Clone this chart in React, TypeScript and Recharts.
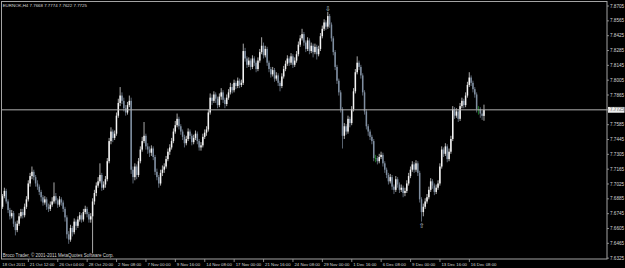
import { ComposedChart, Bar, XAxis, YAxis, ReferenceLine, ReferenceDot } from 'recharts'

// EURNOK H4 candles, 18 Oct 2011 .. 19 Dec 2011
const SYMBOL = 'EURNOK,H4'
const FIRST_OPEN = 7.684

const closes = [
  7.681, 7.691, 7.696, 7.686, 7.678, 7.672, 7.675, 7.665, 7.659, 7.665,
  7.672, 7.676, 7.673, 7.681, 7.688, 7.703, 7.710, 7.714, 7.709, 7.703,
  7.700, 7.695, 7.690, 7.685, 7.688, 7.681, 7.679, 7.683, 7.686, 7.691,
  7.687, 7.683, 7.688, 7.685, 7.679, 7.671, 7.655, 7.650, 7.661, 7.657,
  7.667, 7.663, 7.669, 7.673, 7.669, 7.676, 7.679, 7.674, 7.669, 7.672,
  7.686, 7.694, 7.701, 7.705, 7.711, 7.699, 7.702, 7.707, 7.724, 7.743,
  7.752, 7.746, 7.750, 7.767, 7.779, 7.786, 7.781, 7.774, 7.770, 7.777,
  7.781, 7.716, 7.709, 7.719, 7.711, 7.724, 7.735, 7.743, 7.748, 7.738,
  7.735, 7.732, 7.736, 7.728, 7.714, 7.709, 7.703, 7.713, 7.716, 7.719,
  7.726, 7.733, 7.737, 7.743, 7.752, 7.758, 7.764, 7.757, 7.752, 7.747,
  7.741, 7.745, 7.752, 7.748, 7.742, 7.746, 7.750, 7.743, 7.737, 7.739,
  7.747, 7.751, 7.754, 7.770, 7.784, 7.781, 7.787, 7.783, 7.777, 7.785,
  7.789, 7.782, 7.778, 7.784, 7.789, 7.794, 7.791, 7.798, 7.795, 7.800,
  7.796, 7.798, 7.828, 7.821, 7.815, 7.819, 7.813, 7.821, 7.817, 7.811,
  7.819, 7.827, 7.833, 7.824, 7.830, 7.817, 7.811, 7.806, 7.810, 7.802,
  7.805, 7.798, 7.795, 7.804, 7.811, 7.816, 7.821, 7.817, 7.823, 7.815,
  7.819, 7.825, 7.834, 7.840, 7.844, 7.836, 7.830, 7.838, 7.828, 7.833,
  7.827, 7.832, 7.825, 7.830, 7.842, 7.849, 7.855, 7.851, 7.861, 7.853,
  7.840, 7.827, 7.813, 7.800, 7.789, 7.773, 7.748, 7.757, 7.752, 7.764,
  7.760, 7.773, 7.790, 7.808, 7.817, 7.813, 7.805, 7.789, 7.771, 7.757,
  7.752, 7.747, 7.743, 7.727, 7.727, 7.724, 7.728, 7.730, 7.722, 7.716,
  7.711, 7.705, 7.709, 7.700, 7.697, 7.707, 7.702, 7.697, 7.699, 7.694,
  7.696, 7.703, 7.710, 7.716, 7.721, 7.716, 7.722, 7.713, 7.688, 7.676,
  7.681, 7.686, 7.690, 7.697, 7.705, 7.701, 7.695, 7.699, 7.703, 7.719,
  7.735, 7.731, 7.738, 7.726, 7.733, 7.745, 7.773, 7.767, 7.771, 7.764,
  7.776, 7.781, 7.777, 7.786, 7.796, 7.803, 7.798, 7.792, 7.787, 7.773,
  7.773, 7.769, 7.7668, 7.7725,
]

const highs = [
  7.686, 7.693, 7.699, 7.698, 7.688, 7.680, 7.678, 7.677, 7.667, 7.668,
  7.675, 7.679, 7.679, 7.684, 7.691, 7.706, 7.713, 7.719, 7.716, 7.711,
  7.706, 7.702, 7.697, 7.692, 7.691, 7.690, 7.684, 7.686, 7.690, 7.704,
  7.694, 7.689, 7.691, 7.690, 7.687, 7.681, 7.673, 7.658, 7.664, 7.663,
  7.670, 7.669, 7.672, 7.676, 7.675, 7.679, 7.682, 7.681, 7.676, 7.675,
  7.689, 7.697, 7.704, 7.709, 7.722, 7.713, 7.705, 7.710, 7.727, 7.746,
  7.756, 7.754, 7.753, 7.770, 7.783, 7.794, 7.789, 7.784, 7.777, 7.780,
  7.786, 7.784, 7.719, 7.722, 7.721, 7.727, 7.738, 7.747, 7.761, 7.750,
  7.741, 7.738, 7.739, 7.738, 7.730, 7.717, 7.711, 7.716, 7.720, 7.722,
  7.729, 7.736, 7.740, 7.746, 7.755, 7.762, 7.769, 7.766, 7.759, 7.754,
  7.749, 7.748, 7.755, 7.754, 7.750, 7.749, 7.753, 7.752, 7.745, 7.742,
  7.750, 7.754, 7.757, 7.773, 7.788, 7.787, 7.790, 7.789, 7.785, 7.788,
  7.793, 7.791, 7.784, 7.787, 7.792, 7.798, 7.797, 7.801, 7.800, 7.803,
  7.802, 7.801, 7.835, 7.831, 7.823, 7.822, 7.821, 7.824, 7.823, 7.819,
  7.822, 7.830, 7.841, 7.836, 7.833, 7.832, 7.819, 7.813, 7.813, 7.812,
  7.808, 7.807, 7.800, 7.807, 7.814, 7.819, 7.824, 7.823, 7.826, 7.825,
  7.822, 7.828, 7.837, 7.843, 7.849, 7.846, 7.838, 7.841, 7.840, 7.836,
  7.835, 7.835, 7.834, 7.833, 7.845, 7.852, 7.858, 7.857, 7.865, 7.863,
  7.855, 7.842, 7.829, 7.815, 7.802, 7.791, 7.775, 7.760, 7.759, 7.767,
  7.766, 7.776, 7.793, 7.811, 7.823, 7.819, 7.815, 7.807, 7.791, 7.773,
  7.759, 7.754, 7.749, 7.745, 7.730, 7.729, 7.731, 7.733, 7.732, 7.724,
  7.718, 7.713, 7.712, 7.711, 7.702, 7.710, 7.709, 7.704, 7.702, 7.701,
  7.699, 7.706, 7.713, 7.719, 7.724, 7.723, 7.725, 7.724, 7.715, 7.690,
  7.684, 7.689, 7.693, 7.700, 7.708, 7.707, 7.703, 7.702, 7.706, 7.722,
  7.738, 7.737, 7.741, 7.740, 7.736, 7.748, 7.776, 7.775, 7.774, 7.773,
  7.779, 7.784, 7.783, 7.789, 7.799, 7.808, 7.805, 7.800, 7.794, 7.789,
  7.776, 7.775, 7.772, 7.7774,
]

const lows = [
  7.678, 7.679, 7.689, 7.684, 7.675, 7.669, 7.670, 7.662, 7.654, 7.657,
  7.663, 7.670, 7.670, 7.671, 7.679, 7.686, 7.700, 7.707, 7.706, 7.700,
  7.697, 7.692, 7.686, 7.682, 7.683, 7.678, 7.676, 7.677, 7.681, 7.684,
  7.684, 7.680, 7.681, 7.682, 7.676, 7.667, 7.651, 7.646, 7.648, 7.653,
  7.655, 7.659, 7.661, 7.667, 7.666, 7.667, 7.674, 7.671, 7.666, 7.666,
  7.637, 7.683, 7.691, 7.699, 7.703, 7.696, 7.697, 7.699, 7.705, 7.722,
  7.740, 7.742, 7.744, 7.748, 7.765, 7.776, 7.778, 7.771, 7.767, 7.768,
  7.775, 7.712, 7.703, 7.706, 7.707, 7.709, 7.722, 7.733, 7.741, 7.735,
  7.731, 7.728, 7.729, 7.725, 7.711, 7.706, 7.699, 7.701, 7.710, 7.713,
  7.717, 7.724, 7.730, 7.735, 7.741, 7.750, 7.756, 7.754, 7.749, 7.744,
  7.737, 7.739, 7.743, 7.745, 7.739, 7.740, 7.744, 7.740, 7.734, 7.734,
  7.737, 7.745, 7.748, 7.752, 7.768, 7.777, 7.779, 7.779, 7.774, 7.775,
  7.782, 7.779, 7.774, 7.776, 7.782, 7.787, 7.788, 7.789, 7.792, 7.793,
  7.793, 7.794, 7.796, 7.818, 7.812, 7.813, 7.810, 7.811, 7.814, 7.808,
  7.809, 7.817, 7.825, 7.821, 7.822, 7.814, 7.808, 7.803, 7.804, 7.799,
  7.800, 7.795, 7.790, 7.793, 7.802, 7.809, 7.814, 7.814, 7.815, 7.812,
  7.813, 7.817, 7.823, 7.832, 7.838, 7.833, 7.827, 7.828, 7.825, 7.826,
  7.822, 7.825, 7.820, 7.823, 7.828, 7.840, 7.847, 7.848, 7.849, 7.850,
  7.837, 7.824, 7.810, 7.797, 7.786, 7.770, 7.736, 7.745, 7.749, 7.750,
  7.756, 7.758, 7.771, 7.788, 7.806, 7.810, 7.802, 7.786, 7.768, 7.754,
  7.748, 7.744, 7.740, 7.724, 7.723, 7.721, 7.722, 7.726, 7.719, 7.713,
  7.708, 7.702, 7.703, 7.697, 7.693, 7.695, 7.699, 7.694, 7.695, 7.690,
  7.691, 7.694, 7.701, 7.708, 7.714, 7.713, 7.714, 7.710, 7.685, 7.667,
  7.672, 7.679, 7.684, 7.688, 7.695, 7.698, 7.692, 7.693, 7.697, 7.701,
  7.717, 7.728, 7.729, 7.723, 7.724, 7.731, 7.743, 7.764, 7.765, 7.761,
  7.762, 7.774, 7.774, 7.775, 7.784, 7.794, 7.795, 7.789, 7.784, 7.770,
  7.768, 7.765, 7.763, 7.7622,
]

const priceTicks = [
  7.6325, 7.6465, 7.6605, 7.6745, 7.6885, 7.7025, 7.7165, 7.7305, 7.7445,
  7.7585, 7.7725, 7.7865, 7.8005, 7.8145, 7.8285, 7.8425, 7.8565, 7.8705,
]

const timeTickBars = [0, 15, 31, 47, 63, 79, 95, 111, 127, 143, 159, 175, 191, 207, 223, 239, 255]
const timeTickLabels = [
  '18 Oct 2011', '21 Oct 12:00', '26 Oct 04:00', '28 Oct 20:00', '2 Nov 08:00',
  '7 Nov 00:00', '9 Nov 16:00', '14 Nov 08:00', '17 Nov 00:00', '21 Nov 16:00',
  '24 Nov 08:00', '29 Nov 00:00', '1 Dec 16:00', '6 Dec 08:00', '9 Dec 00:00',
  '13 Dec 16:00', '16 Dec 08:00',
]

const PEAK_BAR = 178
const TROUGH_BAR = 229

const BULL = '#f4f4f4'
const BEAR = '#7f8ea0'
const DOJI = '#22a032'
const FRAME = '#a4a4a4'
const TEXT = '#d8d8d8'
const FONT = '"Liberation Sans", Arial, sans-serif'

const rows = closes.map((close, i) => ({
  idx: i,
  open: i === 0 ? FIRST_OPEN : closes[i - 1],
  high: highs[i],
  low: lows[i],
  close,
}))
const last = rows[rows.length - 1]

function Candle(props: any) {
  const { x, y, width, height, payload } = props
  if (x == null || y == null || !payload) return null
  const { open, close, high, low } = payload
  const cx = x + width / 2
  const span = high - low || 1e-9
  const yO = y + ((high - open) / span) * height
  const yC = y + ((high - close) / span) * height
  const color = close === open ? DOJI : close > open ? BULL : BEAR
  const top = Math.min(yO, yC)
  const h = Math.max(Math.abs(yO - yC), 0.9)
  return (
    <g>
      <line x1={cx} x2={cx} y1={y} y2={y + height} stroke={color} strokeWidth={0.7} />
      <rect x={cx - 0.75} y={top} width={1.5} height={h} fill={color} />
    </g>
  )
}

function PriceTick(props: any) {
  const { x, y, payload } = props
  return (
    <g>
      <line x1={x} x2={x + 2} y1={y} y2={y} stroke={FRAME} strokeWidth={0.8} />
      <text x={x + 3} y={y + 1.6} fill={TEXT} fontSize={4.6} fontFamily={FONT}>
        {Number(payload.value).toFixed(4)}
      </text>
    </g>
  )
}

function TimeTick(props: any) {
  const { x, y, payload } = props
  const k = timeTickBars.indexOf(payload.value)
  return (
    <g>
      {k > 0 && <line x1={x} x2={x} y1={y} y2={y + 3} stroke={FRAME} strokeWidth={0.8} />}
      <text x={x + 1.5} y={y + 6.6} fill={TEXT} fontSize={4.3} fontFamily={FONT}>
        {timeTickLabels[k]}
      </text>
    </g>
  )
}

function PriceTag(props: any) {
  const vb = props.viewBox || {}
  const right = (vb.x || 0) + (vb.width || 0)
  const y = vb.y || 0
  return (
    <g>
      <rect x={right + 1} y={y - 2.9} width={16.5} height={5.8} fill="#ececec" />
      <text x={right + 3} y={y + 1.6} fill="#000" fontSize={4.6} fontFamily={FONT}>
        {last.close.toFixed(4)}
      </text>
    </g>
  )
}

export default function App() {
  return (
    <div style={{ position: 'absolute', left: 0, top: 0, width: 625, height: 268, background: '#000' }}>
      <ComposedChart width={625} height={268} data={rows} margin={{ top: 2, right: 0, bottom: 0, left: 1 }}>
        <XAxis
          type="number"
          dataKey="idx"
          domain={[0.11, 329.9]}
          ticks={timeTickBars}
          interval={0}
          allowDataOverflow
          axisLine={false}
          tickLine={false}
          tickSize={0}
          tickMargin={0}
          height={9}
          tick={(p: any) => <TimeTick {...p} />}
        />
        <YAxis
          orientation="right"
          domain={[7.6317, 7.8743]}
          ticks={priceTicks}
          interval={0}
          allowDataOverflow
          axisLine={false}
          tickLine={false}
          tickSize={0}
          tickMargin={0}
          width={18}
          tick={(p: any) => <PriceTick {...p} />}
        />
        <ReferenceLine y={last.close} stroke="#b0b0b0" strokeWidth={1} label={<PriceTag />} />
        <Bar
          dataKey={(d: any) => [d.low, d.high]}
          barSize={2}
          shape={<Candle />}
          isAnimationActive={false}
        />
        <ReferenceDot
          x={PEAK_BAR}
          y={highs[PEAK_BAR]}
          r={0}
          shape={(p: any) => (
            <text x={p.cx} y={p.cy - 1} textAnchor="middle" fill="#b8c4d0" fontSize={7} fontFamily="DejaVu Sans">
              ⇩
            </text>
          )}
        />
        <ReferenceDot
          x={TROUGH_BAR}
          y={lows[TROUGH_BAR]}
          r={0}
          shape={(p: any) => (
            <text x={p.cx} y={p.cy + 6} textAnchor="middle" fill="#b8c4d0" fontSize={7} fontFamily="DejaVu Sans">
              ⇧
            </text>
          )}
        />
      </ComposedChart>
      <svg width={625} height={268} style={{ position: 'absolute', left: 0, top: 0, pointerEvents: 'none' }}>
        <rect x={1.5} y={1.5} width={605.5} height={257.5} fill="none" stroke={FRAME} strokeWidth={1} />
        <text x={2.7} y={6.8} fill={TEXT} fontSize={4.4} fontFamily={FONT}>
          {`${SYMBOL}  ${last.open.toFixed(4)} ${last.high.toFixed(4)} ${last.low.toFixed(4)} ${last.close.toFixed(4)}`}
        </text>
        <text x={2.7} y={257.3} fill={TEXT} fontSize={4.5} fontFamily={FONT}>
          Broco Trader, © 2001-2011 MetaQuotes Software Corp.
        </text>
      </svg>
    </div>
  )
}
